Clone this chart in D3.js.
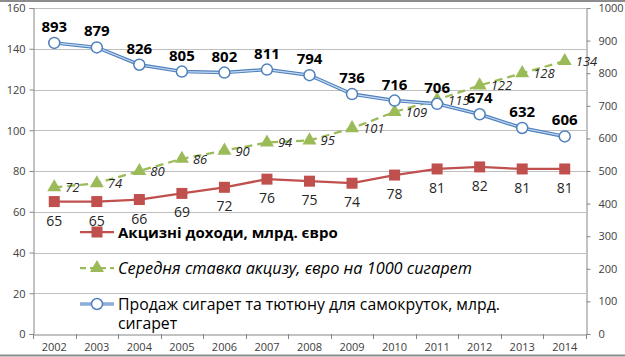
<!DOCTYPE html>
<html><head><meta charset="utf-8">
<script src="https://cdn.jsdelivr.net/npm/d3@7"></script>
<style>body{margin:0;background:#fff}svg{display:block}</style>
</head><body>
<svg id="c" width="625" height="357"></svg>
<script>
const years = ["2002","2003","2004","2005","2006","2007","2008","2009","2010","2011","2012","2013","2014"];
const exciseRevenue = [65,65,66,69,72,76,75,74,78,81,82,81,81];
const avgRate = [72,74,80,86,90,94,95,101,109,115,122,128,134];
const sales = [893,879,826,805,802,811,794,736,716,706,674,632,606];
const leftTicks = [0,20,40,60,80,100,120,140,160];
const rightTicks = [0,100,200,300,400,500,600,700,800,900,1000];
const legendLabels = ["Акцизні доходи, млрд. євро","Середня ставка акцизу, євро на 1000 сигарет","Продаж сигарет та тютюну для самокруток, млрд.","сигарет"];

const svg = d3.select("#c");
const font = "'Open Sans', 'Noto Sans', sans-serif";
const L = 33, R = 586, T = 8, B = 334;
const x = d3.scaleBand().domain(years).range([L, R]);
const cx = d => x(d) + x.bandwidth()/2;
const yL = d3.scaleLinear().domain([0,160]).range([B,T]);
const yR = d3.scaleLinear().domain([0,1000]).range([B,T]);

// frame lines
svg.append("line").attr("x1",0).attr("x2",625).attr("y1",1).attr("y2",1).attr("stroke","#8c8c8c").attr("stroke-width",2);
svg.append("line").attr("x1",0).attr("x2",625).attr("y1",355.5).attr("y2",355.5).attr("stroke","#8c8c8c").attr("stroke-width",2);

// gridlines
svg.append("g").selectAll("line").data(leftTicks.filter(d=>d>0)).join("line")
  .attr("x1",L).attr("x2",R).attr("y1",d=>Math.round(yL(d))+0.5).attr("y2",d=>Math.round(yL(d))+0.5)
  .attr("stroke","#bfbfbf").attr("stroke-width",1);

// axes
const axL = svg.append("g").attr("transform",`translate(${L+0.5},0)`).call(d3.axisLeft(yL).tickValues(leftTicks).tickSize(4).tickPadding(4));
const axR = svg.append("g").attr("transform",`translate(${R+0.5},0)`).call(d3.axisRight(yR).tickValues(rightTicks).tickFormat(d3.format("d")).tickSize(4).tickPadding(8));
const axB = svg.append("g").attr("transform",`translate(0,${B+0.5})`).call(d3.axisBottom(x).tickSize(0).tickPadding(9));
// x tick marks between categories
svg.append("g").selectAll("line").data(d3.range(years.length+1)).join("line")
  .attr("x1",i=>Math.round(L + i*x.step())+0.5).attr("x2",i=>Math.round(L + i*x.step())+0.5)
  .attr("y1",B).attr("y2",B+5).attr("stroke","#868686");
[axL,axR,axB].forEach(a=>{
  a.select(".domain").attr("stroke","#868686");
  a.selectAll(".tick line").attr("stroke","#868686");
  a.selectAll("text").attr("font-family",font).attr("font-size",11).attr("fill","#404040");
});
axL.selectAll("text").attr("dy","0.35em");

// series
const lineL = d3.line().x((d,i)=>cx(years[i])).y(d=>yL(d));
const lineR = d3.line().x((d,i)=>cx(years[i])).y(d=>yR(d));

// red
svg.append("path").attr("d",lineL(exciseRevenue)).attr("fill","none").attr("stroke","#C0504D").attr("stroke-width",2.25);
svg.append("g").selectAll("rect").data(exciseRevenue).join("rect")
  .attr("x",(d,i)=>cx(years[i])-5.5).attr("y",d=>yL(d)-5.5).attr("width",11).attr("height",11).attr("fill","#C0504D");

// green
svg.append("path").attr("d",lineL(avgRate)).attr("fill","none").attr("stroke","#9BBB59").attr("stroke-width",2.25).attr("stroke-dasharray","8,5");
const tri = d3.symbol().type(d3.symbolTriangle).size(85);
svg.append("g").selectAll("path").data(avgRate).join("path")
  .attr("d",tri).attr("transform",(d,i)=>`translate(${cx(years[i])},${yL(d)})`).attr("fill","#9BBB59");

// blue
svg.append("path").attr("d",lineR(sales)).attr("fill","none").attr("stroke","#4F81BD").attr("stroke-width",3.5);
svg.append("path").attr("d",lineR(sales)).attr("fill","none").attr("stroke","#c6d9f1").attr("stroke-width",1.2);
svg.append("g").selectAll("circle").data(sales).join("circle")
  .attr("cx",(d,i)=>cx(years[i])).attr("cy",d=>yR(d)).attr("r",5.5).attr("fill","#fff").attr("stroke","#4F81BD").attr("stroke-width",1.5);

// labels
svg.append("g").selectAll("text").data(exciseRevenue).join("text")
  .attr("x",(d,i)=>cx(years[i])).attr("y",d=>yL(d)+24).attr("text-anchor","middle")
  .attr("font-family",font).attr("font-size",14).attr("fill","#262626").text(d=>d);
svg.append("g").selectAll("text").data(avgRate).join("text")
  .attr("x",(d,i)=>cx(years[i])+11).attr("y",d=>yL(d)+5).attr("text-anchor","start")
  .attr("font-family",font).attr("font-size",13).attr("font-style","italic").attr("fill","#262626").text(d=>d);
svg.append("g").selectAll("text").data(sales).join("text")
  .attr("x",(d,i)=>cx(years[i])).attr("y",d=>yR(d)-11).attr("text-anchor","middle")
  .attr("font-family",font).attr("font-size",15).attr("font-weight","bold").attr("fill","#000").text(d=>d);

// legend
const lg = svg.append("g");
const lx1 = 80, lx2 = 114, tx = 118;
const rows = [232, 268, 304];
lg.append("line").attr("x1",lx1).attr("x2",lx2).attr("y1",rows[0]).attr("y2",rows[0]).attr("stroke","#C0504D").attr("stroke-width",2.25);
lg.append("rect").attr("x",(lx1+lx2)/2-5.5).attr("y",rows[0]-5.5).attr("width",11).attr("height",11).attr("fill","#C0504D");
lg.append("line").attr("x1",lx1).attr("x2",lx2).attr("y1",rows[1]).attr("y2",rows[1]).attr("stroke","#9BBB59").attr("stroke-width",2.25).attr("stroke-dasharray","6,4");
lg.append("path").attr("d",tri).attr("transform",`translate(${(lx1+lx2)/2},${rows[1]})`).attr("fill","#9BBB59");
lg.append("line").attr("x1",lx1).attr("x2",lx2).attr("y1",rows[2]).attr("y2",rows[2]).attr("stroke","#4F81BD").attr("stroke-width",3);
lg.append("line").attr("x1",lx1).attr("x2",lx2).attr("y1",rows[2]).attr("y2",rows[2]).attr("stroke","#c6d9f1").attr("stroke-width",1);
lg.append("circle").attr("cx",(lx1+lx2)/2).attr("cy",rows[2]).attr("r",5.5).attr("fill","#fff").attr("stroke","#4F81BD").attr("stroke-width",1.5);
lg.append("text").attr("x",tx).attr("y",rows[0]+5.5).attr("font-family",font).attr("font-size",15).attr("font-weight","bold").attr("fill","#000").text(legendLabels[0]);
lg.append("text").attr("x",tx).attr("y",rows[1]+5.5).attr("font-family",font).attr("font-size",16.3).attr("font-style","italic").attr("fill","#000").text(legendLabels[1]);
lg.append("text").attr("x",tx).attr("y",rows[2]+5.5).attr("font-family",font).attr("font-size",15.8).attr("fill","#000").text(legendLabels[2]);
lg.append("text").attr("x",tx).attr("y",rows[2]+25).attr("font-family",font).attr("font-size",15.8).attr("fill","#000").text(legendLabels[3]);
</script>
</body></html>
